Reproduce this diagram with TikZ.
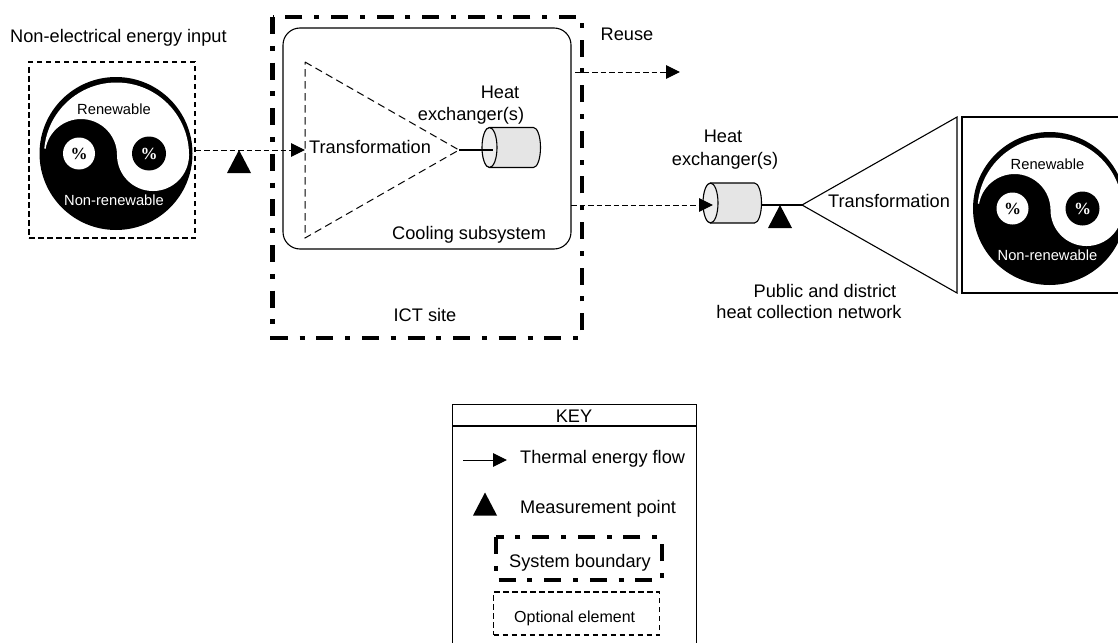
\documentclass[tikz,border=0pt]{standalone}
\usepackage{fontspec}
\setmainfont{Liberation Sans}
\newfontfamily\pctfont{Liberation Serif}
\usetikzlibrary{arrows.meta,positioning}
\newcommand{\fsL}{\fontsize{18.2}{21}\selectfont}
\newcommand{\fsM}{\fontsize{16}{19}\selectfont}
\newcommand{\fsS}{\fontsize{14.7}{17}\selectfont}
\tikzset{
  lbl/.style={inner sep=0pt,anchor=base west,font=\fsL},
  lblc/.style={inner sep=0pt,anchor=base,font=\fsL},
  flow/.style={line width=1pt,-{Triangle[length=14pt,width=13.5pt]},shorten >=0pt},
  flowdash/.style={flow,dash pattern=on 5.5pt off 3pt},
  optline/.style={line width=1.1pt,dash pattern=on 5.5pt off 3.5pt},
  thinDash/.style={line width=1pt,dash pattern=on 7.5pt off 4.5pt},
  boundary/.style={line width=4.6pt,dash pattern=on 17pt off 11.8pt on 5pt off 11.8pt},
  outline/.style={line width=1.1pt},
  yycircle/.pic={
    \fill[black] (0,0) circle (76.5);
    \fill[white] (-71.7,4.8) arc[start angle=175,end angle=0,radius=72.5]
       arc[start angle=0,end angle=-180,radius=36]
       arc[start angle=0,end angle=170,radius=36] -- cycle;
    \fill[white] (-37,0) circle (16);
    \fill[black] (33,0) circle (17);
    \node[inner sep=0pt,font=\bfseries\pctfont\fontsize{17}{19}\selectfont] (-pa) at (-37,0) {\%};
    \node[inner sep=0pt,font=\bfseries\pctfont\fontsize{17}{19}\selectfont,text=white] (-pb) at (33,0) {\%};
    \node[inner sep=0pt,anchor=base,font=\fsS] (-re) at (-2,39) {Renewable};
    \node[inner sep=0pt,anchor=base,font=\fsS,text=white] (-nr) at (-2,-52) {Non-renewable};
  },
  hxcyl/.pic={
    \filldraw[outline,fill=black!10] (0,20) -- (44,20) arc[start angle=90,end angle=-90,x radius=7,y radius=20] -- (0,-20) arc[start angle=270,end angle=90,x radius=7,y radius=20];
    \draw[outline,fill=black!7] (0,0) ellipse[x radius=7.5,y radius=20];
  },
  measure/.pic={
    \fill[black] (0,0) -- (12,-23) -- (-12,-23) -- cycle;
  }
}
\begin{document}
\begin{tikzpicture}[x=1pt,y=1pt]
\useasboundingbox (0,0) rectangle (1118,-642);
\clip (0,0) rectangle (1118,-642);

% left input
\node[lbl] (inlabel) at (10,-42) {Non-electrical energy input};
\node[draw,optline,minimum width=166pt,minimum height=176pt,inner sep=0pt] (inbox) at (112,-150) {};
\pic (yyA) at (116,-153.5) {yycircle};

% ICT site
\draw[boundary] (272.5,-17) -- (272.5,-338) -- (582,-338) -- (582,-17) -- cycle;
\node[draw,outline,rounded corners=17pt,minimum width=288pt,minimum height=221pt,inner sep=0pt] (cool) at (427,-138.5) {};
\node[lbl] (coollabel) at (392,-239) {Cooling subsystem};
\node[lblc] (ictlabel) at (425,-321) {ICT site};

% inner transformation
\coordinate (tAtop) at (305,-62);
\coordinate (tAbot) at (305,-238);
\coordinate (tAapex) at (459,-150);
\coordinate (tAin) at (305,-150);
\draw[thinDash] (tAtop) -- (tAapex) -- (tAbot) -- cycle;
\node[lbl] (tAlabel) at (309,-153) {Transformation};
\pic (cylA) at (489.5,-147.5) {hxcyl};
\coordinate (cylAin) at (493,-150);
\draw[outline] (tAapex) -- (cylAin);
\node[lblc] (hxAa) at (500,-98) {Heat};
\node[lblc] (hxAb) at (471,-120) {exchanger(s)};

\draw[flowdash] (inbox.east |- tAin) -- (tAin);
\pic (mA) at (239,-150) {measure};

% reuse
\coordinate (reuseS) at (575,-72);
\coordinate (reuseE) at (680,-72);
\draw[flowdash] (reuseS) -- (reuseE);
\node[lblc] (reuse) at (627,-41) {Reuse};

% right side
\coordinate (cylBs) at (571,-205);
\coordinate (cylBin) at (713,-205);
\coordinate (cylBout) at (761,-205);
\pic (cylB) at (710.5,-203) {hxcyl};
\draw[flowdash] (cylBs) -- (cylBin);
\coordinate (tBapex) at (802,-205);
\coordinate (tBtop) at (957,-117);
\coordinate (tBbot) at (957,-293);
\draw[outline] (cylBout) -- (tBapex);
\draw[outline] (tBapex) -- (tBtop) -- (tBbot) -- cycle;
\pic (mB) at (780,-205) {measure};
\node[lbl] (tBlabel) at (828,-207) {Transformation};
\node[lblc] (hxBa) at (723,-142) {Heat};
\node[lblc] (hxBb) at (725,-165) {exchanger(s)};
\node[lblc] (pub) at (825,-297) {Public and district};
\node[lblc] (net) at (809,-318) {heat collection network};
\node[draw,outline,minimum width=170pt,minimum height=176pt,inner sep=0pt] (outbox) at (1047,-205) {};
\pic (yyB) at (1049.5,-208.5) {yycircle};

% key
\node[draw,outline,minimum width=244pt,minimum height=260pt,inner sep=0pt,anchor=north west] (keybox) at (452,-404) {};
\coordinate (keyL) at (452,-426);
\coordinate (keyR) at (696,-426);
\draw[outline] (keyL) -- (keyR);
\node[lblc] (keyt) at (574,-422) {KEY};
\coordinate (kaS) at (463,-460);
\coordinate (kaE) at (507,-460);
\draw[flow] (kaS) -- (kaE);
\node[lbl] (kta) at (520,-463) {Thermal energy flow};
\pic (kM) at (485,-492.5) {measure};
\node[lbl] (ktb) at (520,-513) {Measurement point};
\draw[boundary] (496,-537) -- (496,-580) -- (662,-580) -- (662,-537) -- cycle;
\node[lbl] (ktc) at (509,-567) {System boundary};
\node[draw,optline,minimum width=166pt,minimum height=43pt,inner sep=0pt] (kopt) at (576.5,-613.5) {};
\node[inner sep=0pt,anchor=base west,font=\fsM] (ktd) at (514,-622) {Optional element};
\end{tikzpicture}
\end{document}
